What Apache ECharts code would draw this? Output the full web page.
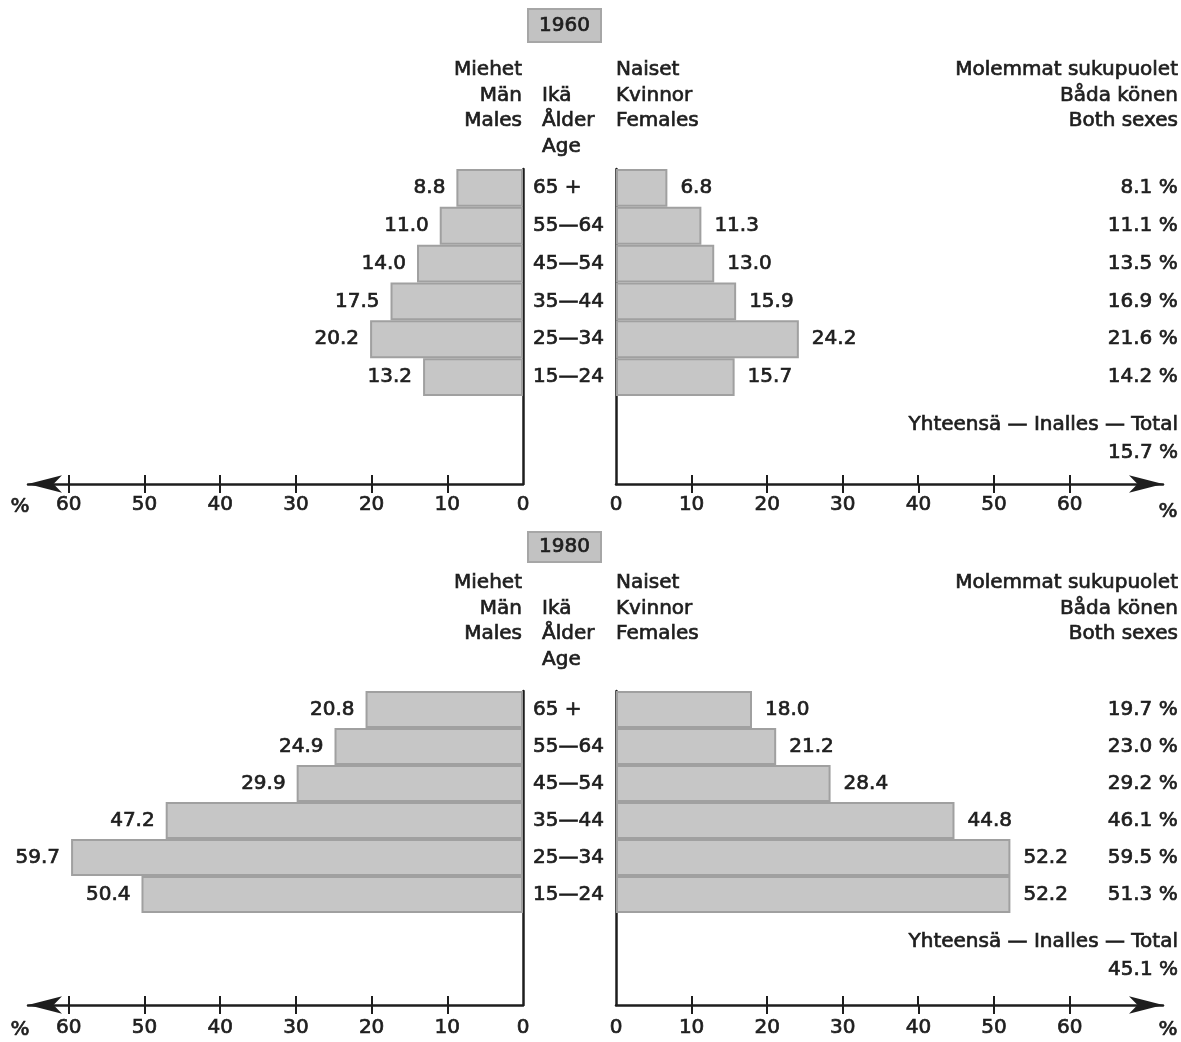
<!DOCTYPE html>
<html><head><meta charset="utf-8">
<script src="https://cdn.jsdelivr.net/npm/echarts@6/dist/echarts.min.js"></script>
<style>html,body{margin:0;padding:0;background:#fff}#c{width:1181px;height:1042px}</style>
</head><body><div id="c"></div>
<script>
// ---- data ----
const ages = ['65 +', '55\u201464', '45\u201454', '35\u201444', '25\u201434', '15\u201424'];
const males1960 = [8.8, 11.0, 14.0, 17.5, 20.2, 13.2];
const females1960 = [6.8, 11.3, 13.0, 15.9, 24.2, 15.7];
const both1960 = [8.1, 11.1, 13.5, 16.9, 21.6, 14.2];
const total1960 = 15.7;
const males1980 = [20.8, 24.9, 29.9, 47.2, 59.7, 50.4];
const females1980 = [18.0, 21.2, 28.4, 44.8, 52.2, 52.2];
const both1980 = [19.7, 23.0, 29.2, 46.1, 59.5, 51.3];
const total1980 = 45.1;
const tickValues = [10, 20, 30, 40, 50, 60];
const tickLabels = [0, 10, 20, 30, 40, 50, 60];
const headMales = 'Miehet\nMän\nMales';
const headAge = 'Ikä\nÅlder\nAge';
const headFemales = 'Naiset\nKvinnor\nFemales';
const headBoth = 'Molemmat sukupuolet\nBåda könen\nBoth sexes';
const totalText = 'Yhteensä \u2014 Inalles \u2014 Total';
const unitText = '%';

// ---- style / layout ----
const FONT = '"DejaVu Sans", "Liberation Sans", Arial, sans-serif';
const FS = 20;
const INK = '#1e1e1e';
const STROKE = 0.7;
const BAR = '#c6c6c6';
const BAR_EDGE = '#a0a0a0';
const L = { left: 28, right: 658, max: 65.39 };
const R = { left: 616, right: 18, max: 72.35 };

const panels = [
  { year: '1960', males: males1960, females: females1960, both: both1960, total: total1960,
    barTop: 169, barBottom: 396, axisY: 484, boxTop: 9, boxPad: [5, 11, 4, 11], headY: 70, totalY: 425,
    labMargin: 11, unitLY: 507, unitRY: 512 },
  { year: '1980', males: males1980, females: females1980, both: both1980, total: total1980,
    barTop: 691, barBottom: 913, axisY: 1005, boxTop: 532, boxPad: [3, 11, 3, 11], headY: 583, totalY: 942,
    labMargin: 13, unitLY: 1030, unitRY: 1030 }
];

const grid = [], xAxis = [], yAxis = [], series = [], title = [], graphic = [];
const txt = { color: INK, fontFamily: FONT, fontSize: FS, textBorderColor: INK, textBorderWidth: STROKE };
const fmt1 = v => Number(v).toFixed(1);

panels.forEach((p, k) => {
  const H = 1042;
  const base = 4 * k;
  // grids: bars-left, frame-left, bars-right, frame-right
  grid.push({ left: L.left, right: L.right, top: p.barTop, bottom: H - p.barBottom });
  grid.push({ left: L.left, right: L.right, top: p.barTop, bottom: H - p.axisY });
  grid.push({ left: R.left, right: R.right, top: p.barTop, bottom: H - p.barBottom });
  grid.push({ left: R.left, right: R.right, top: p.barTop, bottom: H - p.axisY });

  const tickIn = { show: true, inside: true, length: 9, customValues: tickValues, lineStyle: { color: INK, width: 2 } };
  const tickOut = { show: true, inside: false, length: 9, customValues: tickValues, lineStyle: { color: INK, width: 2 } };
  const axLine = { show: true, onZero: false, lineStyle: { color: INK, width: 2.5 } };

  // x axes
  xAxis.push({ gridIndex: base, type: 'value', min: 0, max: L.max, inverse: true, position: 'bottom',
    offset: p.axisY - p.barBottom, axisLine: { show: false, onZero: false }, axisTick: tickIn,
    axisLabel: { show: false }, splitLine: { show: false } });
  xAxis.push({ gridIndex: base + 1, type: 'value', min: 0, max: L.max, inverse: true, position: 'bottom',
    axisLine: Object.assign({}, axLine, { symbol: ['arrow', 'none'], symbolSize: [13, 34] }),
    axisTick: tickOut,
    axisLabel: Object.assign({ customValues: tickLabels, margin: p.labMargin }, txt),
    splitLine: { show: false } });
  xAxis.push({ gridIndex: base + 2, type: 'value', min: 0, max: R.max, position: 'bottom',
    offset: p.axisY - p.barBottom, axisLine: { show: false, onZero: false }, axisTick: tickIn,
    axisLabel: { show: false }, splitLine: { show: false } });
  xAxis.push({ gridIndex: base + 3, type: 'value', min: 0, max: R.max, position: 'bottom',
    axisLine: Object.assign({}, axLine, { symbol: ['none', 'arrow'], symbolSize: [13, 34] }),
    axisTick: tickOut,
    axisLabel: Object.assign({ customValues: tickLabels, margin: p.labMargin }, txt),
    splitLine: { show: false } });

  // y axes
  yAxis.push({ gridIndex: base, type: 'category', data: ages, inverse: true, position: 'right',
    axisLine: { show: false }, axisTick: { show: false },
    axisLabel: Object.assign({ margin: 10, align: 'left' }, txt) });
  yAxis.push({ gridIndex: base + 1, type: 'value', min: 0, max: 1, position: 'right',
    axisLine: axLine, axisTick: { show: false }, axisLabel: { show: false }, splitLine: { show: false } });
  yAxis.push({ gridIndex: base + 2, type: 'category', data: ages, inverse: true, position: 'right',
    axisLine: { show: false }, axisTick: { show: false },
    axisLabel: Object.assign({ margin: 15, align: 'right',
      formatter: (v, i) => fmt1(p.both[i]) + ' %' }, txt) });
  yAxis.push({ gridIndex: base + 3, type: 'value', min: 0, max: 1, position: 'left',
    axisLine: axLine, axisTick: { show: false }, axisLabel: { show: false }, splitLine: { show: false } });

  const barStyle = { color: BAR, borderColor: BAR_EDGE, borderWidth: 2 };
  series.push({ type: 'bar', name: 'Males ' + p.year, xAxisIndex: base, yAxisIndex: base, data: p.males,
    barCategoryGap: '0%', itemStyle: barStyle, silent: true,
    label: Object.assign({ show: true, position: 'left', distance: 11, formatter: q => fmt1(q.value) }, txt) });
  series.push({ type: 'bar', name: 'Females ' + p.year, xAxisIndex: base + 2, yAxisIndex: base + 2, data: p.females,
    barCategoryGap: '0%', itemStyle: barStyle, silent: true,
    label: Object.assign({ show: true, position: 'right', distance: 13, formatter: q => fmt1(q.value) }, txt) });

  title.push({ text: p.year, left: 528, top: p.boxTop, padding: p.boxPad,
    backgroundColor: '#c2c2c2', borderColor: '#a6a6a6', borderWidth: 2,
    textStyle: { color: INK, fontFamily: FONT, fontSize: FS, fontWeight: 'normal', lineHeight: 24,
      textBorderColor: INK, textBorderWidth: STROKE } });

  const LH = 25.5;
  const mk = (text, x, y, align, va) => ({ type: 'text', silent: true,
    style: { text, x, y, fill: INK, stroke: INK, lineWidth: STROKE, font: FS + 'px ' + FONT, align, textAlign: align,
      verticalAlign: va || 'top', textVerticalAlign: va || 'top', lineHeight: LH } });
  graphic.push(mk(headMales, 522, p.headY - LH / 2, 'right'));
  graphic.push(mk(headAge, 542, p.headY + LH / 2, 'left'));
  graphic.push(mk(headFemales, 616, p.headY - LH / 2, 'left'));
  graphic.push(mk(headBoth, 1178, p.headY - LH / 2, 'right'));
  graphic.push(mk(totalText, 1178, p.totalY, 'right', 'middle'));
  graphic.push(mk(fmt1(p.total) + ' %', 1178, p.totalY + 28, 'right', 'middle'));
  graphic.push(mk(unitText, 20, p.unitLY, 'center', 'middle'));
  graphic.push(mk(unitText, 1168, p.unitRY, 'center', 'middle'));
});

const chart = echarts.init(document.getElementById('c'), null, { renderer: 'canvas' });
chart.setOption({ backgroundColor: '#ffffff', animation: false, textStyle: { fontFamily: FONT },
  title, grid, xAxis, yAxis, series, graphic });
</script></body></html>
